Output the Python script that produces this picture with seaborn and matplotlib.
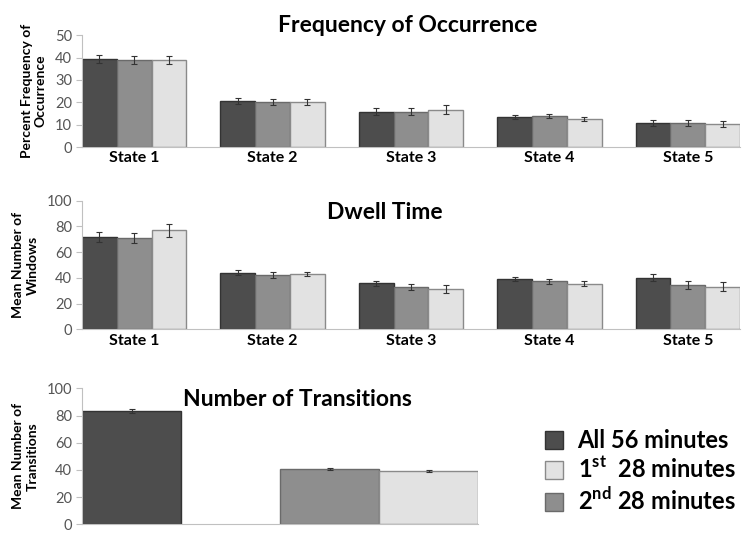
import pandas as pd
import numpy as np
import matplotlib.pyplot as plt
import seaborn as sns
from matplotlib.patches import Patch

# series (order as drawn in the bar groups)
series = ['All 56 minutes', '2nd 28 minutes', '1st 28 minutes']
colors = {'All 56 minutes': '#4d4d4d', '2nd 28 minutes': '#8e8e8e', '1st 28 minutes': '#e2e2e2'}
edges = {'All 56 minutes': '#333333', '2nd 28 minutes': '#6a6a6a', '1st 28 minutes': '#8a8a8a'}
legend_labels = {'All 56 minutes': 'All 56 minutes',
                 '1st 28 minutes': r'1$^{\mathbf{st}}$  28 minutes',
                 '2nd 28 minutes': r'2$^{\mathbf{nd}}$ 28 minutes'}

states = ['State 1', 'State 2', 'State 3', 'State 4', 'State 5']

# Frequency of occurrence (%)
freq_all = [39.5, 20.5, 15.8, 13.3, 10.8]
freq_2nd = [39.0, 20.2, 15.8, 14.0, 10.9]
freq_1st = [39.0, 20.2, 16.8, 12.6, 10.4]
freq_err_all = [1.8, 1.3, 1.6, 0.9, 1.2]
freq_err_2nd = [1.8, 1.5, 1.6, 1.0, 1.4]
freq_err_1st = [1.8, 1.3, 1.8, 1.0, 1.2]

# Dwell time (mean number of windows)
dwell_all = [72.0, 44.0, 36.0, 39.5, 40.3]
dwell_2nd = [71.0, 42.5, 33.0, 37.5, 34.5]
dwell_1st = [77.0, 43.2, 31.5, 35.5, 33.3]
dwell_err_all = [3.8, 2.0, 2.0, 1.5, 3.0]
dwell_err_2nd = [4.2, 2.5, 2.5, 2.0, 3.0]
dwell_err_1st = [4.8, 1.8, 2.8, 2.0, 3.8]

# Number of transitions
trans_labels = ['All 56 minutes', '2nd 28 minutes', '1st 28 minutes']
trans_vals = [83.5, 40.8, 39.1]
trans_err = [1.3, 0.8, 0.7]

plt.rcParams['font.family'] = ['Lato', 'DejaVu Sans']
plt.rcParams['mathtext.fontset'] = 'custom'
plt.rcParams['mathtext.rm'] = 'Lato'
plt.rcParams['mathtext.bf'] = 'Lato:bold'

fig = plt.figure(figsize=(7.52, 5.41), dpi=100)
ax1 = fig.add_axes([0.109, 0.728, 0.875, 0.207])
ax2 = fig.add_axes([0.109, 0.391, 0.875, 0.238])
ax3 = fig.add_axes([0.109, 0.031, 0.527, 0.251])


def grouped(ax, vals, errs, ymax, ylabel):
    df = pd.DataFrame({
        'State': states * 3,
        'Series': np.repeat(series, len(states)),
        'Value': np.concatenate(vals),
        'Err': np.concatenate(errs),
    })
    sns.barplot(data=df, x='State', y='Value', hue='Series', hue_order=series,
                palette=colors, width=0.754, gap=0, legend=False, ax=ax,
                linewidth=1)
    for cont, s, e in zip(ax.containers, series, errs):
        xs = [p.get_x() + p.get_width() / 2 for p in cont.patches]
        hs = [p.get_height() for p in cont.patches]
        for p in cont.patches:
            p.set_edgecolor(edges[s])
        ax.errorbar(xs, hs, yerr=e, fmt='none', ecolor='#333333',
                    elinewidth=0.8, capsize=2.5, capthick=0.8)
    ax.set_xlim(-0.377, 4.377)
    ax.set_ylim(0, ymax)
    ax.set_xlabel('')
    ax.set_ylabel(ylabel, fontsize=10, fontweight='bold', labelpad=6,
                  linespacing=1.2)
    for lab in ax.get_xticklabels():
        lab.set_fontweight('bold')
        lab.set_fontsize(11.5)
    ax.tick_params(axis='x', length=0, pad=3)


def style(ax):
    for side in ['top', 'right']:
        ax.spines[side].set_visible(False)
    ax.spines['left'].set_color('#c0c0c0')
    ax.spines['bottom'].set_color('#c0c0c0')
    ax.tick_params(axis='y', colors='#c0c0c0', labelcolor='#555555',
                   labelsize=10.5, length=4, width=0.8, pad=3)


grouped(ax1, [freq_all, freq_2nd, freq_1st],
        [freq_err_all, freq_err_2nd, freq_err_1st], 50,
        'Percent Frequency of\nOccurrence')
ax1.set_yticks([0, 10, 20, 30, 40, 50])
style(ax1)

grouped(ax2, [dwell_all, dwell_2nd, dwell_1st],
        [dwell_err_all, dwell_err_2nd, dwell_err_1st], 100,
        'Mean Number of\nWindows')
ax2.set_yticks([0, 20, 40, 60, 80, 100])
style(ax2)

# transitions: four slots, the second one left empty
tdf = pd.DataFrame({'Series': trans_labels, 'Value': trans_vals})
slots = ['All 56 minutes', 'blank', '2nd 28 minutes', '1st 28 minutes']
sns.barplot(data=tdf, x='Series', y='Value', hue='Series', order=slots,
            hue_order=series, palette=colors, width=1.0, legend=False,
            linewidth=1, ax=ax3)
for cont, s in zip(ax3.containers, series):
    for p in cont.patches:
        if p.get_height() > 0:
            p.set_edgecolor(edges[s])
            xc = p.get_x() + p.get_width() / 2
            ax3.errorbar([xc], [p.get_height()],
                         yerr=[trans_err[trans_labels.index(s)]], fmt='none',
                         ecolor='#333333', elinewidth=0.8, capsize=2.5,
                         capthick=0.8)
ax3.set_xlim(-0.5, 3.5)
ax3.set_ylim(0, 100)
ax3.set_yticks([0, 20, 40, 60, 80, 100])
ax3.set_xticks([])
ax3.set_xlabel('')
ax3.set_ylabel('Mean Number of\nTransitions', fontsize=10, fontweight='bold',
               labelpad=6, linespacing=1.2)
style(ax3)

fig.text(408 / 752, 1 - 25 / 541, 'Frequency of Occurrence', ha='center',
         va='center', fontsize=16.5, fontweight='bold')
fig.text(385 / 752, 1 - 212 / 541, 'Dwell Time', ha='center',
         va='center', fontsize=16.5, fontweight='bold')
fig.text(297 / 752, 1 - 400 / 541, 'Number of Transitions', ha='center',
         va='center', fontsize=16.5, fontweight='bold')

legend_order = ['All 56 minutes', '1st 28 minutes', '2nd 28 minutes']
handles = [Patch(facecolor=colors[s], edgecolor=edges[s], label=legend_labels[s])
           for s in legend_order]
fig.legend(handles=handles, loc='upper left',
           bbox_to_anchor=(545 / 752, 1 - 429 / 541), frameon=False,
           prop={'weight': 'bold', 'size': 17},
           handlelength=0.78, handleheight=0.78, handletextpad=0.6,
           labelspacing=0.2, borderpad=0, borderaxespad=0)

fig.savefig('out.png', dpi=100)
